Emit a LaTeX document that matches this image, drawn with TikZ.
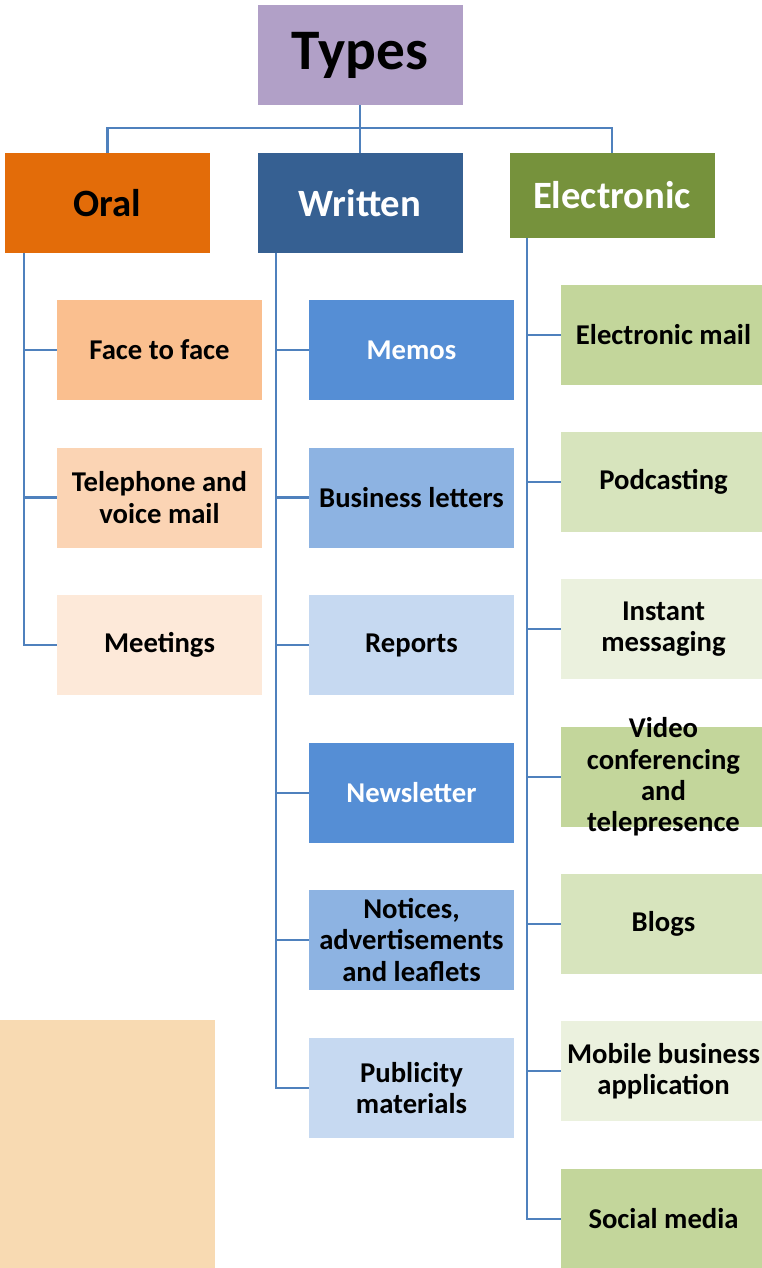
\documentclass[tikz,border=0pt]{standalone}
\usepackage{fontspec}
\setmainfont{Carlito}
\usetikzlibrary{positioning}
\definecolor{tyLilac}{HTML}{B1A0C7}
\definecolor{orHead}{HTML}{E36C09}
\definecolor{orA}{HTML}{FABF8F}
\definecolor{orB}{HTML}{FBD4B4}
\definecolor{orC}{HTML}{FDE9D9}
\definecolor{wrHead}{HTML}{366092}
\definecolor{wrA}{HTML}{558ED5}
\definecolor{wrB}{HTML}{8DB3E2}
\definecolor{wrC}{HTML}{C6D9F1}
\definecolor{elHead}{HTML}{76923C}
\definecolor{elA}{HTML}{C3D69B}
\definecolor{elB}{HTML}{D7E4BD}
\definecolor{elC}{HTML}{EBF1DE}
\definecolor{peach}{HTML}{F8DAB2}
\definecolor{wire}{HTML}{4F81BD}
\tikzset{
  cell/.style   ={inner sep=0pt,align=center,minimum width=153.75pt,minimum height=75pt,
                  font=\fontsize{21.5}{23.5}\selectfont\bfseries},
  head/.style   ={cell,font=\fontsize{29}{32}\selectfont\bfseries},
  top/.style    ={cell,font=\fontsize{43}{48}\selectfont\bfseries,fill=tyLilac},
  celltxt/.style={inner sep=0pt,align=center,font=\fontsize{21.5}{23.5}\selectfont\bfseries},
  conn/.style   ={wire,line width=1.8pt},
}

\begin{document}
\begin{tikzpicture}[x=0.75pt,y=-0.75pt]
\useasboundingbox (0,0) rectangle (762,1268);

%% heads
\node[top] (types) at (360,55) {Types};
\node[head,fill=orHead] (oral) at (107.5,203) {Oral};
\node[head,fill=wrHead,text=white] (writ) at (360,203) {Written};
\node[head,fill=elHead,text=white,minimum height=63.75pt] (elec) at (612,195.5) {Electronic};

\coordinate (bus) at (360,128);
\draw[conn] (types.south) -- (bus);
\foreach \h in {oral,writ,elec}
  \draw[conn] (bus) -| (\h.north);

%% oral
\foreach \n/\y/\c/\t in {1/350/orA/{Face to face}, 2/497.5/orB/{Telephone and\\voice mail},
                         3/645/orC/{Meetings}}
  { \node[cell,fill=\c] (o\n) at (159.5,\y) {\t};
    \draw[conn] ([xshift=14.5pt]oral.south west) |- (o\n.west); }

%% written
\foreach \n/\y/\c/\k/\t in {1/350/wrA/white/{Memos}, 2/497.5/wrB/black/{Business letters},
                            3/645/wrC/black/{Reports}, 4/793/wrA/white/{Newsletter},
                            5/940/wrB/black/{Notices,\\advertisements\\and leaflets},
                            6/1088/wrC/black/{Publicity\\materials}}
  { \node[cell,fill=\c,text=\k] (w\n) at (411.5,\y) {\t};
    \draw[conn] ([xshift=14pt]writ.south west) |- (w\n.west); }

%% electronic
\foreach \n/\y/\c/\t in {1/335/elA/{Electronic mail}, 2/482/elB/{Podcasting},
                         3/629/elC/{Instant\\messaging}, 4/777/elA/{},
                         5/924/elB/{Blogs}, 6/1071/elC/{Mobile business\\application},
                         7/1219/elA/{Social media}}
  { \node[cell,fill=\c] (e\n) at (663.5,\y) {\t};
    \draw[conn] ([xshift=13.5pt]elec.south west) |- (e\n.west); }
\node[celltxt] (e4txt) at (e4) {Video\\conferencing\\and\\telepresence};

\fill[peach] (0,1020) rectangle (215,1268);
\end{tikzpicture}
\end{document}
